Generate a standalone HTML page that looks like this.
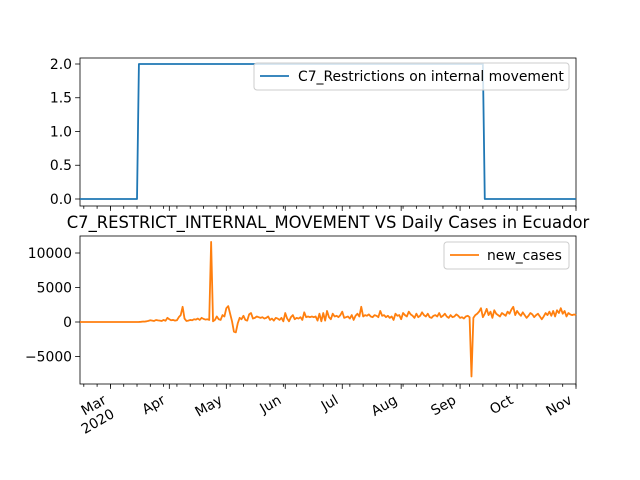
<!DOCTYPE html>
<html><head><meta charset="utf-8"><style>
body{margin:0;background:#fff}
svg{display:block;font-family:"DejaVu Sans","Liberation Sans",sans-serif}
</style></head><body>
<svg id="chart" width="640" height="480" viewBox="0 0 640 480">
<rect width="640" height="480" fill="#fff"/>
</svg>
<script>
const monthLabels=["Mar","Apr","May","Jun","Jul","Aug","Sep","Oct","Nov"];
const monthDays=[16,47,77,108,138,169,200,230,261];
const policyRunValues=[0,2,0];
const policyRunLengths=[31,182,49];
const topTicks=[0,0.5,1,1.5,2];
const topTickLabels=["0.0","0.5","1.0","1.5","2.0"];
const botTicks=[-5000,0,5000,10000];
const botTickLabels=["−5000","0","5000","10000"];
const newCases=[0,0,0,0,0,0,0,0,0,0,
0,0,0,0,0,0,0,0,0,0,
0,0,0,0,0,0,0,0,0,0,
0,10,30,60,50,100,170,250,200,150,
290,240,200,150,300,180,600,400,250,300,
200,250,700,1000,2200,500,150,200,300,250,
400,350,500,300,600,450,350,400,300,11600,
100,300,800,400,300,1000,800,2000,2300,1200,
100,-1400,-1500,-200,600,400,900,300,200,1100,
1300,500,600,800,700,600,700,500,600,800,
300,500,200,600,500,300,600,100,1300,500,
100,700,1000,400,600,500,700,300,1400,700,
800,700,800,700,800,200,1200,100,1300,200,
1600,700,400,1200,800,900,700,1000,1500,600,
700,800,500,1000,300,900,1200,800,2200,800,
1000,900,1100,800,700,1000,900,700,1600,900,
1000,700,900,600,800,300,1200,900,1000,400,
1300,1000,800,1500,1100,900,600,1200,700,900,
1400,1000,800,1200,700,600,900,1000,800,1300,
700,900,1200,800,600,1000,700,800,1100,900,
600,700,500,800,900,700,-7900,600,1000,1200,
1500,2000,700,1200,1900,1000,1500,600,1700,1200,
1000,800,1300,1100,900,1500,1200,1800,2200,1000,
1600,1200,900,1400,1000,600,900,1300,1100,700,
1000,1200,800,400,800,1300,1000,1500,900,1600,
800,1700,1300,2000,1200,1600,800,1300,1100,1000,
1100,1000];

const NS="http://www.w3.org/2000/svg";
const svg=document.getElementById('chart');
function mk(tag,attrs,parent){const e=document.createElementNS(NS,tag);for(const k in attrs)e.setAttribute(k,attrs[k]);(parent||svg).appendChild(e);return e;}
const X0=80,X1=576,DMAX=261;
const x=d=>X0+(d/DMAX)*(X1-X0);
const yTop=v=>199-v*67.5;
const yBot=v=>322-v*0.0069;

const policy=[];
policyRunValues.forEach((v,i)=>{for(let k=0;k<policyRunLengths[i];k++)policy.push(v);});

function axes(top,bottom,name){
  const g=mk('g',{});
  
  
  for(let d=2;d<=DMAX;d+=7){
    const t=mk('line',{x1:x(d),x2:x(d),y1:bottom,y2:bottom+2.8,stroke:'#000','stroke-width':0.8},g);
    
    
  }
  monthDays.forEach(d=>{
    const t=mk('line',{x1:x(d),x2:x(d),y1:bottom,y2:bottom+4.9,stroke:'#000','stroke-width':0.8},g);
    
    
  });
  const r=mk('rect',{x:X0,y:top,width:X1-X0,height:bottom-top,fill:'none',stroke:'#000','stroke-width':0.8},g);
  
  
  return g;
}
axes(58,206,'top-axes');
axes(236,384,'bottom-axes');

topTicks.forEach((v,i)=>{
  const yy=yTop(v);
  mk('line',{x1:X0-4.9,x2:X0,y1:yy,y2:yy,stroke:'#000','stroke-width':0.8});
  const t=mk('text',{x:X0-8,y:yy+4.8,'text-anchor':'end','font-size':13.9,fill:'#000'});
  t.textContent=topTickLabels[i];
  
  
});
botTicks.forEach((v,i)=>{
  const yy=yBot(v);
  mk('line',{x1:X0-4.9,x2:X0,y1:yy,y2:yy,stroke:'#000','stroke-width':0.8});
  const t=mk('text',{x:X0-8,y:yy+4.8,'text-anchor':'end','font-size':13.9,fill:'#000'});
  t.textContent=botTickLabels[i];
  
  
});

const pl=mk('polyline',{points:policy.map((v,i)=>x(i)+','+yTop(v)).join(' '),fill:'none',stroke:'#1f77b4','stroke-width':1.8,'stroke-linejoin':'round'});


const cl=mk('polyline',{points:newCases.map((v,i)=>x(i)+','+yBot(v)).join(' '),fill:'none',stroke:'#ff7f0e','stroke-width':1.8,'stroke-linejoin':'round'});



monthDays.forEach((d,i)=>{
  const tx=x(d)-8, ty=394;
  const t=mk('text',{x:tx,y:ty+10,'text-anchor':'end','font-size':13.9,fill:'#000',transform:`rotate(-30 ${tx} ${ty})`});
  t.textContent=monthLabels[i];
  
  
  if(i===0){
    const t2=mk('text',{x:tx,y:ty+26,'text-anchor':'end','font-size':13.9,fill:'#000',transform:`rotate(-30 ${tx} ${ty})`});
    t2.textContent='2020';
    
    
  }
});
</script>
<text x="328" y="454" text-anchor="middle" font-size="13.9" font-family="DejaVu Sans, sans-serif">Date</text>
<script>
(function(){
const NS="http://www.w3.org/2000/svg";
const svg=document.getElementById('chart');
const dt=document.querySelector('body > text');
svg.appendChild(dt);
function mk(tag,attrs){const e=document.createElementNS(NS,tag);for(const k in attrs)e.setAttribute(k,attrs[k]);svg.appendChild(e);return e;}
const title=mk('text',{x:328,y:228,'text-anchor':'middle','font-size':16.4,fill:'#000'});
title.textContent='C7_RESTRICT_INTERNAL_MOVEMENT VS Daily Cases in Ecuador';


const l1=mk('rect',{x:254,y:63,width:315,height:27,rx:3,fill:'#fff','fill-opacity':0.8,stroke:'#ccc','stroke-width':1});


const ll1=mk('line',{x1:260,x2:289,y1:76,y2:76,stroke:'#1f77b4','stroke-width':1.8});


const lt1=mk('text',{x:298,y:81,'font-size':13.9,fill:'#000'});
lt1.textContent='C7_Restrictions on internal movement';


const l2=mk('rect',{x:444,y:242,width:125,height:27,rx:3,fill:'#fff','fill-opacity':0.8,stroke:'#ccc','stroke-width':1});


const ll2=mk('line',{x1:450,x2:479,y1:255,y2:255,stroke:'#ff7f0e','stroke-width':1.8});


const lt2=mk('text',{x:487,y:260,'font-size':13.9,fill:'#000'});
lt2.textContent='new_cases';


})();
</script>
</body></html>
